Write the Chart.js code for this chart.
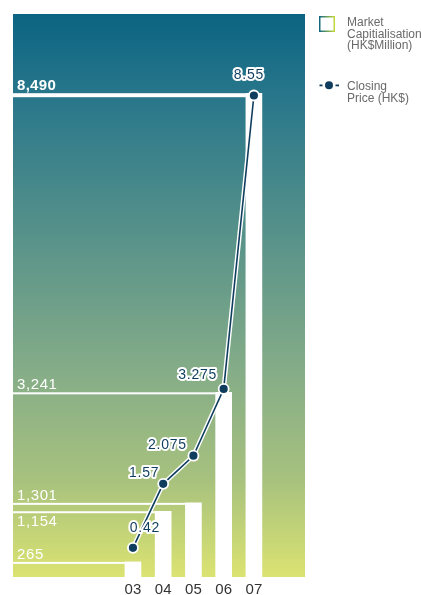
<!DOCTYPE html>
<html>
<head>
<meta charset="utf-8">
<script src="https://cdn.jsdelivr.net/npm/chart.js@4.4.1/dist/chart.umd.min.js"></script>
<style>
  html, body { margin: 0; padding: 0; background: #ffffff; }
  #wrap { position: relative; width: 421px; height: 595px; }
</style>
</head>
<body>
<div id="wrap"><canvas id="chart" width="421" height="595"></canvas></div>
<script>
// Financial years and the two series
const years = ['03', '04', '05', '06', '07'];
const marketCap = [265, 1154, 1301, 3241, 8490];        // HK$ million
const closingPrice = [0.42, 1.57, 2.075, 3.275, 8.55];  // HK$

const FONT = '"Liberation Sans", Arial, Helvetica, sans-serif';
const NAVY = '#0f3d5e';

const capPoints = marketCap.map((v, i) => ({ x: i, y: v }));
const pricePoints = closingPrice.map((v, i) => ({ x: i, y: v }));

// Teal-to-lime wash behind the plot area
const gradientArea = {
  id: 'gradientArea',
  beforeDatasetsDraw(chart) {
    const { ctx, chartArea: a } = chart;
    const g = ctx.createLinearGradient(0, a.top, 0, a.bottom);
    g.addColorStop(0, '#0b6482');
    g.addColorStop(0.15, '#29778b');
    g.addColorStop(0.63, '#84ac88');
    g.addColorStop(0.83, '#a8c27e');
    g.addColorStop(1, '#dbe371');
    ctx.save();
    ctx.fillStyle = g;
    ctx.fillRect(a.left + 1, a.top, a.right - a.left - 1, a.bottom - a.top);
    ctx.restore();
  }
};

// White leader line from the left edge to each bar top, with its value
const capLines = {
  id: 'capLines',
  beforeDatasetsDraw(chart) {
    const { ctx, chartArea: a } = chart;
    const bars = chart.getDatasetMeta(0).data;
    const peak = Math.max(...marketCap);
    ctx.save();
    ctx.fillStyle = '#ffffff';
    ctx.textAlign = 'left';
    ctx.textBaseline = 'alphabetic';
    bars.forEach((bar, i) => {
      const strong = marketCap[i] === peak;
      const lw = strong ? 4 : 2;
      const xEnd = bar.x - bar.width / 2;
      ctx.fillRect(a.left, bar.y, xEnd - a.left, lw);
      const gaps = bars.filter(b => b.y < bar.y).map(b => bar.y - b.y);
      const room = gaps.length ? Math.min(...gaps) : Infinity;
      ctx.font = (strong ? 'bold ' : '') + '15px ' + FONT;
      if ('letterSpacing' in ctx) ctx.letterSpacing = strong ? '0.3px' : '0.6px';
      const y = room > 20 ? bar.y - 3 : bar.y + lw + 13;
      ctx.fillText(marketCap[i].toLocaleString('en-US'), a.left + 5, y);
    });
    ctx.restore();
  }
};

// Closing price tags with a white halo
const priceTags = {
  id: 'priceTags',
  afterDatasetsDraw(chart, args, opts) {
    const { ctx } = chart;
    const pts = chart.getDatasetMeta(2).data;
    ctx.save();
    ctx.font = '14px ' + FONT;
    if ('letterSpacing' in ctx) ctx.letterSpacing = '0.8px';
    ctx.textAlign = 'center';
    ctx.textBaseline = 'middle';
    ctx.lineJoin = 'round';
    pts.forEach((p, i) => {
      const [dx, dy] = opts.offsets[i];
      const text = String(closingPrice[i]);
      ctx.strokeStyle = '#ffffff';
      ctx.lineWidth = 4;
      ctx.strokeText(text, p.x + dx, p.y + dy);
      ctx.fillStyle = NAVY;
      ctx.fillText(text, p.x + dx, p.y + dy);
    });
    ctx.restore();
  }
};

// Side legend with wrapped captions
const sideLegend = {
  id: 'sideLegend',
  afterDraw(chart, args, opts) {
    const { ctx } = chart;
    ctx.save();
    // box swatch
    const g = ctx.createLinearGradient(319, 0, 335, 0);
    g.addColorStop(0, '#0b6482');
    g.addColorStop(1, '#c9dc3c');
    ctx.strokeStyle = g;
    ctx.lineWidth = 1.5;
    ctx.strokeRect(319.75, 16.75, 14.5, 14.5);
    // dash-dot-dash swatch
    ctx.fillStyle = NAVY;
    ctx.fillRect(319.5, 84.5, 3, 1.8);
    ctx.fillRect(335.5, 84.5, 3.5, 1.8);
    ctx.beginPath();
    ctx.arc(329, 85.3, 4, 0, Math.PI * 2);
    ctx.fill();
    // captions
    ctx.fillStyle = '#6a6a6a';
    ctx.font = '12px ' + FONT;
    ctx.textAlign = 'left';
    ctx.textBaseline = 'alphabetic';
    opts.items.forEach(item => {
      item.lines.forEach((t, k) => ctx.fillText(t, 347, item.y + k * 11.6));
    });
    ctx.restore();
  }
};

new Chart(document.getElementById('chart'), {
  type: 'bar',
  data: {
    datasets: [
      {
        type: 'bar',
        label: 'Market Capitialisation (HK$Million)',
        data: capPoints,
        yAxisID: 'yCap',
        backgroundColor: '#ffffff',
        borderWidth: 0,
        barThickness: 16,
        order: 3
      },
      {
        type: 'line',
        label: 'halo',
        data: pricePoints,
        yAxisID: 'yPrice',
        borderColor: '#ffffff',
        borderWidth: 4.5,
        pointRadius: 0,
        tension: 0,
        order: 2
      },
      {
        type: 'line',
        label: 'Closing Price (HK$)',
        data: pricePoints,
        yAxisID: 'yPrice',
        borderColor: NAVY,
        borderWidth: 1.6,
        pointRadius: 5,
        pointBackgroundColor: NAVY,
        pointBorderColor: '#ffffff',
        pointBorderWidth: 1.8,
        tension: 0,
        order: 1
      }
    ]
  },
  options: {
    responsive: false,
    animation: false,
    layout: { padding: { left: 12, top: 14, right: 116, bottom: 0 } },
    scales: {
      x: {
        type: 'linear',
        offset: false,
        min: -4,
        max: 5.69,
        grid: { display: false, drawTicks: false },
        border: { display: false },
        afterBuildTicks(axis) { axis.ticks = years.map((_, i) => ({ value: i })); },
        afterFit(axis) { axis.height = 18; },
        ticks: {
          autoSkip: false,
          maxRotation: 0,
          padding: 4,
          color: '#333333',
          font: { family: FONT, size: 15 },
          callback: v => years[v] ?? ''
        }
      },
      yCap: { type: 'linear', display: false, min: 0, max: 9880 },
      yPrice: { type: 'linear', display: false, min: -0.105, max: 10.015 }
    },
    plugins: {
      legend: { display: false },
      tooltip: { enabled: false },
      priceTags: { offsets: [[12, -20], [-19, -11], [-26, -11], [-26, -14], [-5, -20]] },
      sideLegend: {
        items: [
          { y: 26, lines: ['Market', 'Capitialisation', '(HK$Million)'] },
          { y: 90, lines: ['Closing', 'Price (HK$)'] }
        ]
      }
    }
  },
  plugins: [gradientArea, capLines, priceTags, sideLegend]
});
</script>
</body>
</html>
